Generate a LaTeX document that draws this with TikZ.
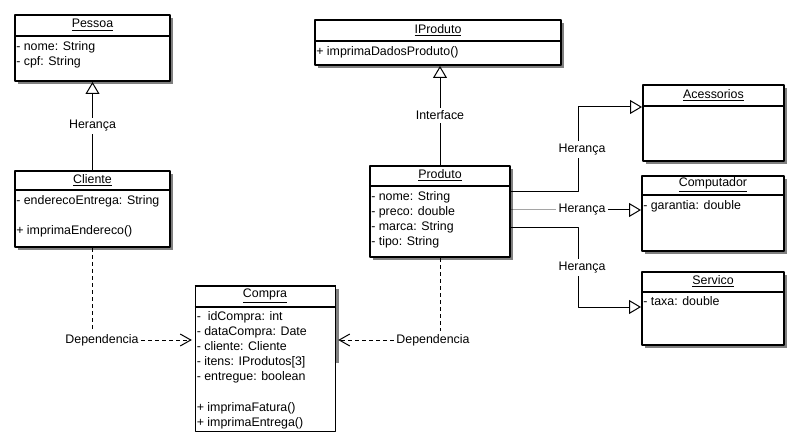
\documentclass[tikz,border=0pt]{standalone}
\usepackage{fontspec}
\setmainfont{Liberation Sans}
\usetikzlibrary{arrows.meta,calc,fit,shadows}
\tikzset{
  classbox/.style={draw, line width=1.5pt, fill=white, inner sep=0pt,
    drop shadow={shadow xshift=2.25pt, shadow yshift=-2.25pt, fill=black!50, opacity=1}},
  sepline/.style={line width=1.5pt},
  classname/.style={inner sep=0pt},
  attr/.style={anchor=base west, inner sep=0pt},
  lbl/.style={fill=white, inner sep=2pt},
  inherit/.style={-{Triangle[open, length=9pt, width=10.5pt]}, line width=0.75pt},
  dep/.style={dash pattern=on 3pt off 2.25pt, line width=0.75pt},
  deparrow/.style={dep, -{Straight Barb[length=8pt, width=9pt]}, shorten >=2pt}
}
\begin{document}
\begin{tikzpicture}[x=0.75pt, y=-0.75pt, font=\fontsize{9.3}{11}\selectfont, line join=round]
\useasboundingbox (0,0) rectangle (799,445);
% Pessoa
\node[classbox, fit={(15,15) (170,81)}] (pessoa) {};
\coordinate (pessoa-h) at ($(pessoa.north west)+(0,22)$);
\draw[sepline] (pessoa-h) -- (pessoa-h -| pessoa.east);
\node[classname] (pessoa-t) at ($(pessoa.north)!0.5!(pessoa-h -| pessoa.north)$) {\underline{Pessoa}};
\foreach \t [count=\i from 0] in {{- nome: String},{- cpf: String}}
  \node[attr] (pessoa-a\i) at ($(pessoa-h)+(2,{14.5+15*\i})$) {\t};
% Cliente
\node[classbox, fit={(15,171) (170,247)}] (cliente) {};
\coordinate (cliente-h) at ($(cliente.north west)+(0,20)$);
\draw[sepline] (cliente-h) -- (cliente-h -| cliente.east);
\node[classname] (cliente-t) at ($(cliente.north)!0.5!(cliente-h -| cliente.north)$) {\underline{Cliente}};
\node[attr] (cliente-a0) at ($(cliente-h)+(2,14.5)$) {- enderecoEntrega: String};
\node[attr] (cliente-a1) at ($(cliente-h)+(2,44.5)$) {+ imprimaEndereco()};
% IProduto
\node[classbox, fit={(315,20) (561,65)}] (iproduto) {};
\coordinate (iproduto-h) at ($(iproduto.north west)+(0,22)$);
\draw[sepline] (iproduto-h) -- (iproduto-h -| iproduto.east);
\node[classname] (iproduto-t) at ($(iproduto.north)!0.5!(iproduto-h -| iproduto.north)$) {\underline{IProduto}};
\node[attr] (iproduto-a0) at ($(iproduto-h)+(2,14.5)$) {+ imprimaDadosProduto()};
% Produto
\node[classbox, fit={(370,166) (510,257)}] (produto) {};
\coordinate (produto-h) at ($(produto.north west)+(0,21)$);
\draw[sepline] (produto-h) -- (produto-h -| produto.east);
\node[classname] (produto-t) at ($(produto.north)!0.5!(produto-h -| produto.north)$) {\underline{Produto}};
\foreach \t [count=\i from 0] in {{- nome: String},{- preco: double},{- marca: String},{- tipo: String}}
  \node[attr] (produto-a\i) at ($(produto-h)+(2,{14.5+15*\i})$) {\t};
% Compra
\node[draw, line width=0.75pt, fill=white, inner sep=0pt, fit={(195,286) (335,431)}] (compra) {};
\fill[black!50] ($(compra.north east)+(0.5,3)$) rectangle ($(compra.north east)+(3,77)$);
\coordinate (compra-h) at ($(compra.north west)+(0,21)$);
\draw[sepline] (compra.north west) -- (compra.north east);
\draw[sepline] (compra-h) -- (compra-h -| compra.east);
\node[classname] (compra-t) at ($(compra.north)!0.5!(compra-h -| compra.north)$) {\underline{Compra}};
\foreach \t [count=\i from 0] in {{-~ idCompra: int},{- dataCompra: Date},{- cliente: Cliente},{- itens: IProdutos[3]},{- entregue: boolean}}
  \node[attr] (compra-a\i) at ($(compra-h)+(2,{13.5+15*\i})$) {\t};
\foreach \t [count=\i from 0] in {{+ imprimaFatura()},{+ imprimaEntrega()}}
  \node[attr] (compra-m\i) at ($(compra-h)+(2,{104.5+15*\i})$) {\t};
% Acessorios
\node[classbox, fit={(643,85) (784,161)}] (acessorios) {};
\coordinate (acessorios-h) at ($(acessorios.north west)+(0,22)$);
\draw[sepline] (acessorios-h) -- (acessorios-h -| acessorios.east);
\node[classname] (acessorios-t) at ($(acessorios.north)!0.5!(acessorios-h -| acessorios.north)$) {\underline{Acessorios}};
% Computador
\node[classbox, fit={(642,176) (784,251)}] (computador) {};
\coordinate (computador-h) at ($(computador.north west)+(0,20)$);
\draw[sepline] (computador-h) -- (computador-h -| computador.east);
\node[classname] (computador-t) at ($(computador.north)!0.5!(computador-h -| computador.north)$) {\underline{Computador}};
\node[attr] (computador-a0) at ($(computador-h)+(2,14.5)$) {- garantia: double};
% Servico
\node[classbox, fit={(642,272) (784,345)}] (servico) {};
\coordinate (servico-h) at ($(servico.north west)+(0,21)$);
\draw[sepline] (servico-h) -- (servico-h -| servico.east);
\node[classname] (servico-t) at ($(servico.north)!0.5!(servico-h -| servico.north)$) {\underline{Servico}};
\node[attr] (servico-a0) at ($(servico-h)+(2,13.5)$) {- taxa: double};
% heranca e interface
\draw[inherit] (cliente.north) -- node[lbl] {Herança} (cliente.north |- pessoa.south);
\draw[inherit] (produto.north) -- node[lbl] {Interface} (produto.north |- iproduto.south);
\coordinate (hx) at ($(produto.east)+(67,0)$);
\coordinate (acessorios-in) at ($(acessorios.north west)+(0,23)$);
\coordinate (computador-in) at ($(computador.north west)+(0,35)$);
\coordinate (servico-in) at ($(servico.north west)+(0,36)$);
\draw[inherit] ($(produto.north east)+(0,27)$) -| node[lbl, pos=0.75, xshift=3pt] {Herança} (hx |- acessorios-in) -- (acessorios-in);
\draw[inherit] (produto.east |- computador-in) -- (hx |- computador-in) node[lbl, xshift=3pt] {Herança} -- (computador-in);
\draw[inherit] ($(produto.north east)+(0,63)$) -| node[lbl, pos=0.75, xshift=3pt] {Herança} (hx |- servico-in) -- (servico-in);
% dependencias
\node[lbl] (dep-c) at (102,340) {Dependencia};
\draw[dep] (cliente.south) -- (cliente.south |- dep-c.north);
\draw[deparrow] (dep-c.east) -- (compra.west |- dep-c.east);
\node[lbl] (dep-p) at (433,340) {Dependencia};
\draw[dep] (produto.south) -- (produto.south |- dep-p.north);
\draw[deparrow] (dep-p.west) -- (compra.east |- dep-p.west);
\end{tikzpicture}
\end{document}
